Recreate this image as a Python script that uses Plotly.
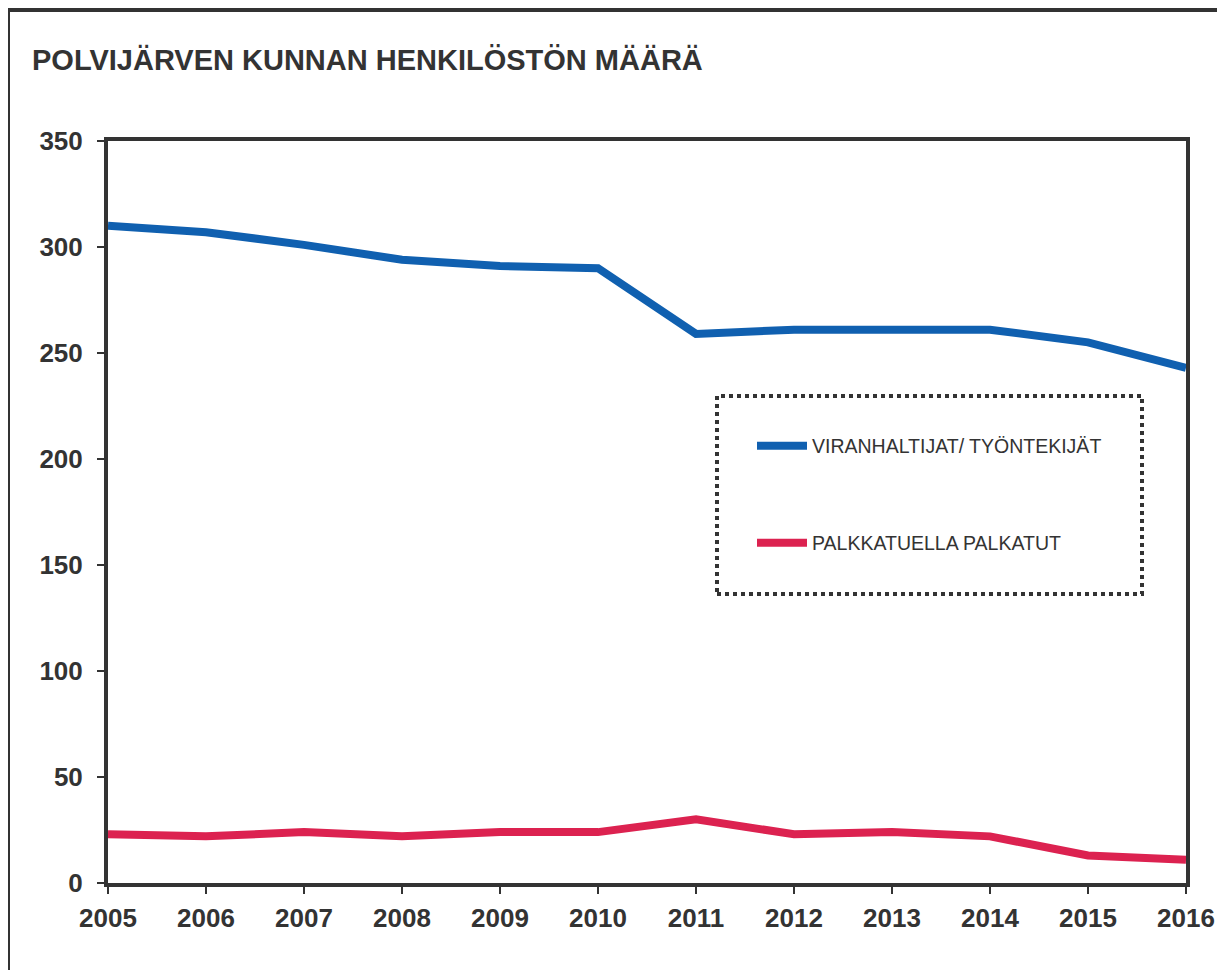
import plotly.graph_objects as go

years = [2005, 2006, 2007, 2008, 2009, 2010, 2011, 2012, 2013, 2014, 2015, 2016]
viranhaltijat = [310, 307, 301, 294, 291, 290, 259, 261, 261, 261, 255, 243]
palkkatuella = [23, 22, 24, 22, 24, 24, 30, 23, 24, 22, 13, 11]
y_ticks = [0, 50, 100, 150, 200, 250, 300, 350]

title_text = "POLVIJÄRVEN KUNNAN HENKILÖSTÖN MÄÄRÄ"
name_blue = "VIRANHALTIJAT/ TYÖNTEKIJÄT"
name_red = "PALKKATUELLA PALKATUT"

W, H = 1225, 970
OFF = 8  # page body margin
# plot area in screen pixels
PX0, PX1, PY0, PY1 = 108, 1186, 141, 883
L = PX0 - OFF
T = PY0 - OFF
R = (W + OFF) - PX1
B = (H + OFF) - PY1
pw, ph = PX1 - PX0, PY1 - PY0

def px(x):
    return (x - PX0) / pw

def py(y):
    return (PY1 - y) / ph

fig = go.Figure()
fig.add_trace(go.Scatter(x=years, y=viranhaltijat, mode="lines", name=name_blue,
                         line=dict(color="#1060b0", width=8), legend="legend"))
fig.add_trace(go.Scatter(x=years, y=palkkatuella, mode="lines", name=name_red,
                         line=dict(color="#dc2250", width=8), legend="legend2"))

axis_color = "#333333"
tickfont = dict(size=26, color=axis_color, family="Liberation Sans, Arial", weight="bold")
fig.update_layout(
    width=W, height=H,
    margin=dict(l=L, r=R, t=T, b=B),
    paper_bgcolor="white", plot_bgcolor="white",
    font=dict(family="Liberation Sans, Arial, sans-serif", color=axis_color),
    title=dict(text="<b>" + title_text + "</b>", x=(32 - OFF) / W, xanchor="left",
               y=1 - (60 - OFF) / H, yanchor="middle",
               font=dict(size=29, color=axis_color)),
    xaxis=dict(range=[2005, 2016], tickvals=years, showgrid=False, zeroline=False,
               showline=True, linecolor=axis_color, linewidth=4, mirror=True,
               ticks="outside", ticklen=7, tickwidth=1.5, tickcolor=axis_color,
               tickfont=tickfont, ticklabelstandoff=2),
    yaxis=dict(range=[0, 350], tickvals=y_ticks, showgrid=False, zeroline=False,
               showline=True, linecolor=axis_color, linewidth=4, mirror=True,
               ticks="outside", ticklen=7, tickwidth=1.5, tickcolor=axis_color,
               tickfont=tickfont, ticklabelstandoff=9),
    legend=dict(x=px(752), y=py(446), xanchor="left", yanchor="middle",
                bgcolor="rgba(0,0,0,0)", borderwidth=0, itemwidth=50,
                font=dict(size=19.5, color=axis_color)),
    legend2=dict(x=px(752), y=py(543), xanchor="left", yanchor="middle",
                 bgcolor="rgba(0,0,0,0)", borderwidth=0, itemwidth=50,
                 font=dict(size=19.5, color=axis_color)),
    showlegend=True,
)

# dotted legend frame
fig.add_shape(type="rect", xref="paper", yref="paper",
              x0=px(717), x1=px(1142), y0=py(594), y1=py(396),
              line=dict(color="#333333", width=4, dash="dot"))
# outer page frame lines
fig.add_shape(type="line", xref="paper", yref="paper",
              x0=px(8), x1=px(8), y0=py(10), y1=py(978),
              line=dict(color="#333333", width=4))
fig.add_shape(type="line", xref="paper", yref="paper",
              x0=px(6), x1=px(1233), y0=py(10), y1=py(10),
              line=dict(color="#333333", width=4))

fig.write_html("out.html")
